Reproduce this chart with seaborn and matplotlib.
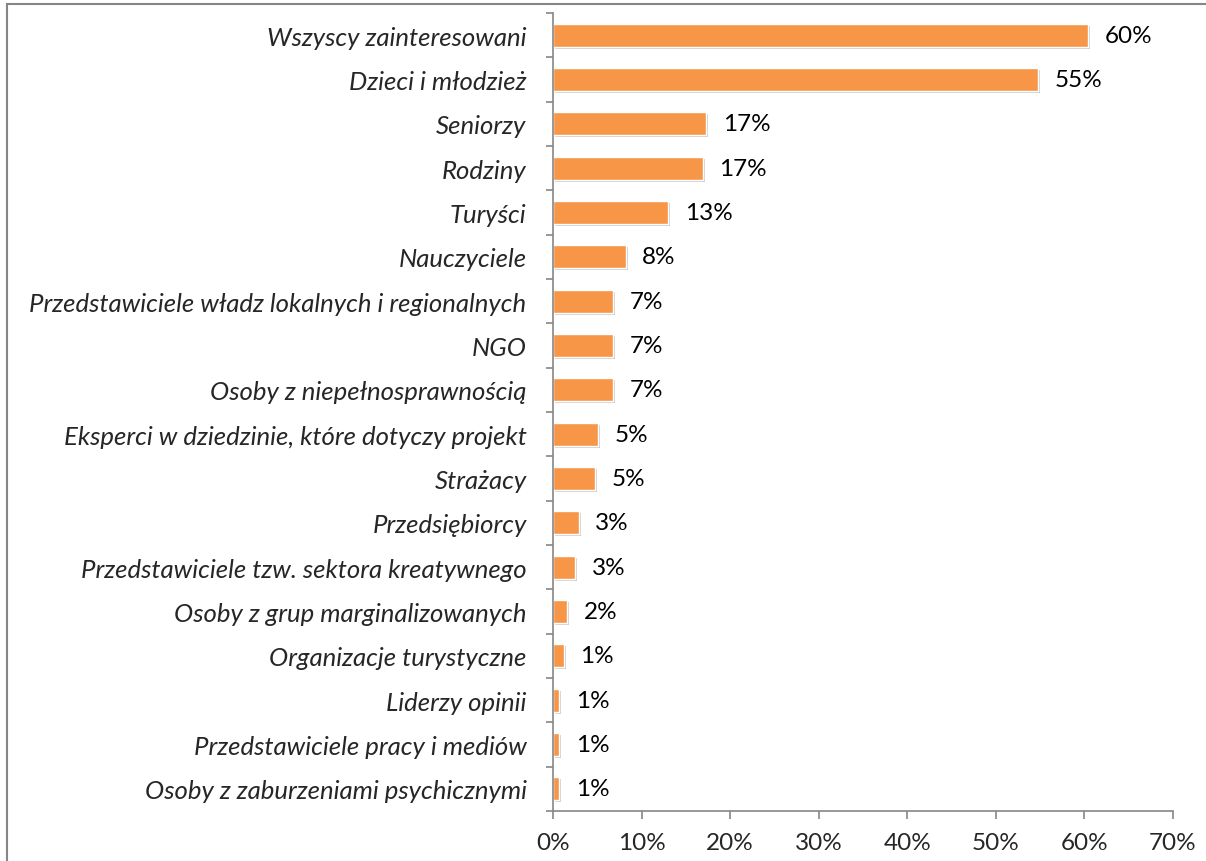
import matplotlib
matplotlib.use("Agg")
import matplotlib.pyplot as plt
import matplotlib.patheffects as pe
from matplotlib.patches import Rectangle
from matplotlib.ticker import FixedLocator, PercentFormatter
import seaborn as sns

# data
categories = [
    "Wszyscy zainteresowani",
    "Dzieci i młodzież",
    "Seniorzy",
    "Rodziny",
    "Turyści",
    "Nauczyciele",
    "Przedstawiciele władz lokalnych i regionalnych",
    "NGO",
    "Osoby z niepełnosprawnością",
    "Eksperci w dziedzinie, które dotyczy projekt",
    "Strażacy",
    "Przedsiębiorcy",
    "Przedstawiciele tzw. sektora kreatywnego",
    "Osoby z grup marginalizowanych",
    "Organizacje turystyczne",
    "Liderzy opinii",
    "Przedstawiciele pracy i mediów",
    "Osoby z zaburzeniami psychicznymi",
]
shares = [60.4, 54.8, 17.3, 16.9, 13.0, 8.2, 6.8, 6.8, 6.8, 5.1, 4.7, 2.9, 2.5,
          1.6, 1.2, 0.7, 0.7, 0.7]
value_labels = ["60%", "55%", "17%", "17%", "13%", "8%", "7%", "7%", "7%", "5%",
                "5%", "3%", "3%", "2%", "1%", "1%", "1%", "1%"]

sns.set_style("white")
plt.rcParams["font.family"] = ["Lato", "DejaVu Sans"]

fig = plt.figure(figsize=(12.06, 8.62), dpi=100)
ax = fig.add_axes([553 / 1206, 1 - 812 / 862, 620 / 1206, 798 / 862])

sns.barplot(x=shares, y=categories, orient="h", color="#F79646", saturation=1,
            width=0.52, edgecolor="white", linewidth=1.0, ax=ax)

for bar in ax.patches:
    bar.set_path_effects([pe.SimplePatchShadow(offset=(1.5, -1.5), alpha=0.35,
                                               shadow_rgbFace="#777777"),
                          pe.Normal()])

for i, (v, lab) in enumerate(zip(shares, value_labels)):
    ax.annotate(lab, (v, i), xytext=(12, 0), textcoords="offset points",
                va="center", ha="left", fontsize=17.5, color="black")

ax.set_xlim(0, 70)
ax.set_ylim(len(categories) - 0.5, -0.5)
ax.set_xticks(range(0, 71, 10))
ax.xaxis.set_major_formatter(PercentFormatter(decimals=0))
ax.yaxis.set_minor_locator(FixedLocator([i - 0.5 for i in range(len(categories) + 1)]))

ax.tick_params(axis="y", which="major", length=0, pad=19, labelsize=18.5)
ax.tick_params(axis="y", which="minor", length=5, width=1.2, color="#868686",
               direction="out", left=True)
ax.tick_params(axis="x", which="major", length=6, width=1.2, color="#868686",
               direction="out", bottom=True, pad=9, labelsize=17.5)
for t in ax.get_yticklabels():
    t.set_fontstyle("italic")

for side in ["top", "right"]:
    ax.spines[side].set_visible(False)
for side in ["left", "bottom"]:
    ax.spines[side].set_color("#868686")
    ax.spines[side].set_linewidth(1.2)

ax.set_xlabel("")
ax.set_ylabel("")

# outer chart frame
fig.patches.append(Rectangle((7 / 1206, -0.1), 1.2, 1.1 - 5 / 862,
                             transform=fig.transFigure, fill=False,
                             edgecolor="#868686", linewidth=1.5, clip_on=False))

fig.savefig("out.png", dpi=100)
